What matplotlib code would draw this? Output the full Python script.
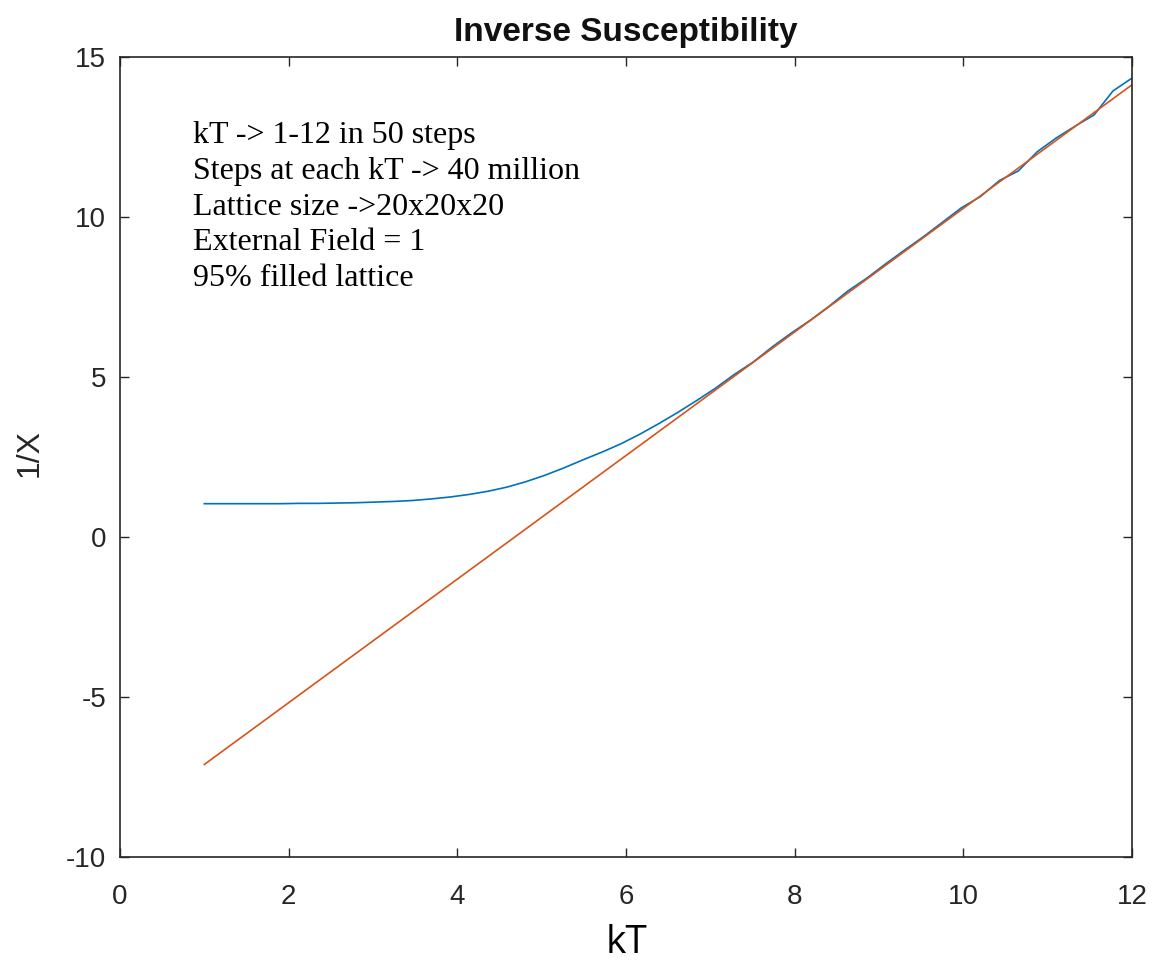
import numpy as np
import matplotlib
matplotlib.use("Agg")
import matplotlib.pyplot as plt

plt.rcParams["axes.unicode_minus"] = False

# kT -> 1-12 in 50 steps
kT = np.linspace(1, 12, 50)

inv_chi = [1.05, 1.05, 1.05, 1.05, 1.05, 1.06, 1.06, 1.07, 1.08, 1.10,
           1.12, 1.15, 1.20, 1.26, 1.34, 1.44, 1.57, 1.74, 1.94, 2.17,
           2.42, 2.66, 2.92, 3.22, 3.55, 3.90, 4.27, 4.66, 5.09, 5.48,
           5.95, 6.38, 6.78, 7.22, 7.70, 8.10, 8.55, 8.98, 9.40, 9.85,
           10.30, 10.65, 11.15, 11.45, 12.05, 12.48, 12.85, 13.20, 13.95, 14.35]

# linear fit of the high temperature part (end points)
fit_kT = [1, 12]
fit_vals = [-7.1, 14.14]

notes = ("kT -> 1-12 in 50 steps\n"
         "Steps at each kT -> 40 million\n"
         "Lattice size ->20x20x20\n"
         "External Field = 1\n"
         "95% filled lattice")

grey = "#262626"

fig = plt.figure(figsize=(11.56, 9.6), dpi=100)
ax = fig.add_axes([0.1038, 0.107, 0.8754, 0.8333])

ax.plot(kT, inv_chi, color="#0072BD", lw=1.2)
ax.plot(fit_kT, fit_vals, color="#D95319", lw=1.2)

ax.set_xlim(0, 12)
ax.set_ylim(-10, 15)
ax.set_xticks(range(0, 13, 2))
ax.set_yticks(range(-10, 16, 5))
ax.tick_params(direction="in", top=True, right=True, length=6.5, width=1,
               colors=grey, labelsize=20)
ax.tick_params(axis="x", pad=19)
ax.tick_params(axis="y", pad=10)
for s in ax.spines.values():
    s.set_color(grey)
    s.set_linewidth(1.2)
for lab in ax.get_xticklabels() + ax.get_yticklabels():
    lab.set_family("Liberation Sans")

ax.set_title("Inverse Susceptibility", fontsize=24, fontweight="bold",
             family="Liberation Sans", color="#111111", pad=11.5)
ax.set_ylabel("1/X", fontsize=23, family="Liberation Sans", color=grey, va="center")
ax.yaxis.set_label_coords(-0.089, 0.505)
ax.set_xlabel("kT", fontsize=28, family="Open Sans", color="black")
ax.xaxis.set_label_coords(0.501, -0.083)

ax.text(0.072, 0.920, notes, transform=ax.transAxes, fontsize=23,
        family="Liberation Serif", va="top", ha="left", linespacing=1.30)

fig.savefig("out.png", dpi=100)
